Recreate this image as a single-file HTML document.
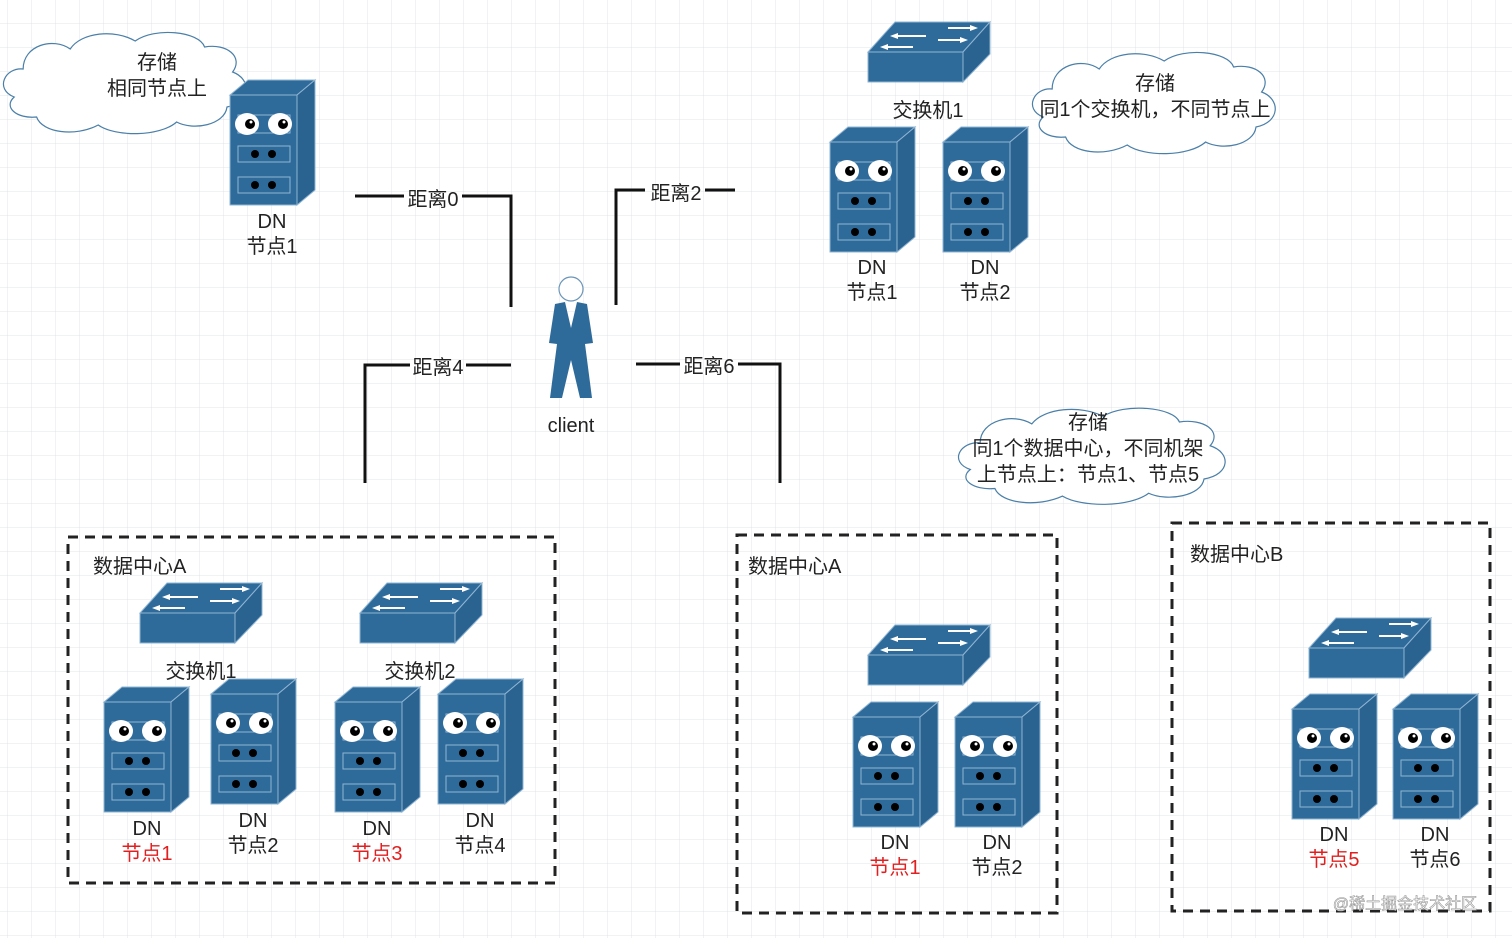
<!DOCTYPE html>
<html><head><meta charset="utf-8"><style>
html,body{margin:0;padding:0;background:#fff}
svg text{font-family:"Liberation Sans","Noto Sans CJK SC",sans-serif;font-size:20px;fill:#222;text-anchor:middle}
</style></head><body>
<svg width="1512" height="938" viewBox="0 0 1512 938" xmlns="http://www.w3.org/2000/svg">
<defs>
<pattern id="g" width="24" height="24" patternUnits="userSpaceOnUse" x="8" y="0">
<path d="M24 0V24M0 24H24" stroke="#e2e5e8" stroke-width="1" fill="none"/>
</pattern>
<g id="srv">
<polygon points="0,15 18,0 85,0 67,15" fill="#2f6b9a" stroke="#8fb4d3" stroke-width="1"/>
<polygon points="67,15 85,0 85,110 67,125" fill="#2a6290" stroke="#8fb4d3" stroke-width="1"/>
<rect x="0" y="15" width="67" height="110" fill="#2f6b9a" stroke="#8fb4d3" stroke-width="1"/>
<rect x="8" y="35" width="52" height="18" fill="none" stroke="#8fb4d3"/>
<ellipse cx="17" cy="44" rx="12" ry="11" fill="#fff"/>
<ellipse cx="50" cy="44" rx="12" ry="11" fill="#fff"/>
<circle cx="20" cy="44" r="5" fill="#000"/><circle cx="53" cy="44" r="5" fill="#000"/>
<circle cx="21" cy="42" r="1.5" fill="#fff"/><circle cx="54" cy="42" r="1.5" fill="#fff"/>
<rect x="8" y="66" width="52" height="16" fill="none" stroke="#8fb4d3"/>
<circle cx="25" cy="74" r="4" fill="#000"/><circle cx="42" cy="74" r="4" fill="#000"/>
<rect x="8" y="97" width="52" height="16" fill="none" stroke="#8fb4d3"/>
<circle cx="25" cy="105" r="4" fill="#000"/><circle cx="42" cy="105" r="4" fill="#000"/>
</g>
<g id="sw">
<polygon points="27,0 122,0 95,30 0,30" fill="#2f6b9a" stroke="#8fb4d3"/>
<polygon points="95,30 122,0 122,32 95,60" fill="#2a6290" stroke="#8fb4d3"/>
<rect x="0" y="30" width="95" height="30" fill="#2f6b9a" stroke="#8fb4d3"/>
<g stroke="#fff" stroke-width="2" fill="#fff">
<line x1="80" y1="6" x2="105" y2="6"/><polygon points="110,6 102,3 102,9" stroke="none"/>
<line x1="58" y1="14" x2="27" y2="14"/><polygon points="22,14 30,11 30,17" stroke="none"/>
<line x1="70" y1="18" x2="95" y2="18"/><polygon points="100,18 92,15 92,21" stroke="none"/>
<line x1="45" y1="25" x2="17" y2="25"/><polygon points="12,25 20,22 20,28" stroke="none"/>
</g>
</g>
<path id="cl" d="M10,70 C-8,62 2,40 18,42 C18,18 45,10 60,22 C70,5 100,2 118,14 C135,0 175,4 180,20 C200,16 215,30 205,45 C222,52 222,75 200,80 C198,98 170,104 155,95 C140,110 100,110 85,98 C65,110 35,106 30,90 C12,92 0,80 10,70 Z" fill="#fff" stroke="#4a7fa8" stroke-width="1.2" vector-effect="non-scaling-stroke"/>
</defs>
<rect width="1512" height="938" fill="url(#g)"/>

<use href="#cl" transform="translate(3,27) scale(1.12,1)"/>
<text x="157" y="69">存储</text><text x="157" y="95">相同节点上</text>
<use href="#cl" transform="translate(1032,47) scale(1.12,1)"/>
<text x="1155" y="90">存储</text><text x="1155" y="116">同1个交换机，不同节点上</text>
<use href="#cl" transform="translate(958,403) scale(1.23,0.95)"/>
<text x="1088" y="429">存储</text><text x="1088" y="455">同1个数据中心，不同机架</text><text x="1088" y="481">上节点上：节点1、节点5</text>

<use href="#srv" x="230" y="80"/>
<text x="272" y="228">DN</text><text x="272" y="253">节点1</text>

<use href="#sw" x="868" y="22"/>
<text x="928" y="117">交换机1</text>
<use href="#srv" x="830" y="127"/><use href="#srv" x="943" y="127"/>
<text x="872" y="274">DN</text><text x="872" y="299">节点1</text>
<text x="985" y="274">DN</text><text x="985" y="299">节点2</text>

<circle cx="571" cy="289" r="12" fill="#fff" stroke="#6b95b8" stroke-width="1.2"/>
<path d="M555,304 L565,302 L571,328 L577,302 L587,304 L593,343 L585,344 L592,398 L580,398 L571,360 L562,398 L550,398 L557,344 L549,343 Z" fill="#2f6b9a"/>
<text x="571" y="432">client</text>

<g stroke="#111" stroke-width="3" fill="none">
<path d="M355,196 H404 M462,196 H511 V307"/>
<path d="M616,305 V190 H645 M705,190 H735"/>
<path d="M365,483 V365 H410 M466,365 H511"/>
<path d="M636,364 H680 M738,364 H780 V483"/>
</g>
<text x="433" y="206">距离0</text>
<text x="676" y="200">距离2</text>
<text x="438" y="374">距离4</text>
<text x="709" y="373">距离6</text>

<g stroke="#222" stroke-width="3" fill="none" stroke-dasharray="10,7">
<rect x="68" y="537" width="487" height="346"/>
<rect x="737" y="535" width="320" height="378"/>
<rect x="1172" y="523" width="318" height="388"/>
</g>
<text x="93" y="573" style="text-anchor:start">数据中心A</text>
<text x="748" y="573" style="text-anchor:start">数据中心A</text>
<text x="1190" y="561" style="text-anchor:start">数据中心B</text>

<use href="#sw" x="140" y="583"/><use href="#sw" x="360" y="583"/>
<text x="201" y="678">交换机1</text><text x="420" y="678">交换机2</text>
<use href="#srv" x="104" y="687"/><use href="#srv" x="211" y="679"/>
<use href="#srv" x="335" y="687"/><use href="#srv" x="438" y="679"/>
<text x="147" y="835">DN</text><text x="147" y="860" style="fill:#e02020">节点1</text>
<text x="253" y="827">DN</text><text x="253" y="852">节点2</text>
<text x="377" y="835">DN</text><text x="377" y="860" style="fill:#e02020">节点3</text>
<text x="480" y="827">DN</text><text x="480" y="852">节点4</text>

<use href="#sw" x="868" y="625"/>
<use href="#srv" x="853" y="702"/><use href="#srv" x="955" y="702"/>
<text x="895" y="849">DN</text><text x="895" y="874" style="fill:#e02020">节点1</text>
<text x="997" y="849">DN</text><text x="997" y="874">节点2</text>

<use href="#sw" x="1309" y="618"/>
<use href="#srv" x="1292" y="694"/><use href="#srv" x="1393" y="694"/>
<text x="1334" y="841">DN</text><text x="1334" y="866" style="fill:#e02020">节点5</text>
<text x="1435" y="841">DN</text><text x="1435" y="866">节点6</text>

<text x="1405" y="909" style="font-size:16px;fill:#fff;stroke:#999;stroke-width:0.6">@稀土掘金技术社区</text>
</svg>
</body></html>
